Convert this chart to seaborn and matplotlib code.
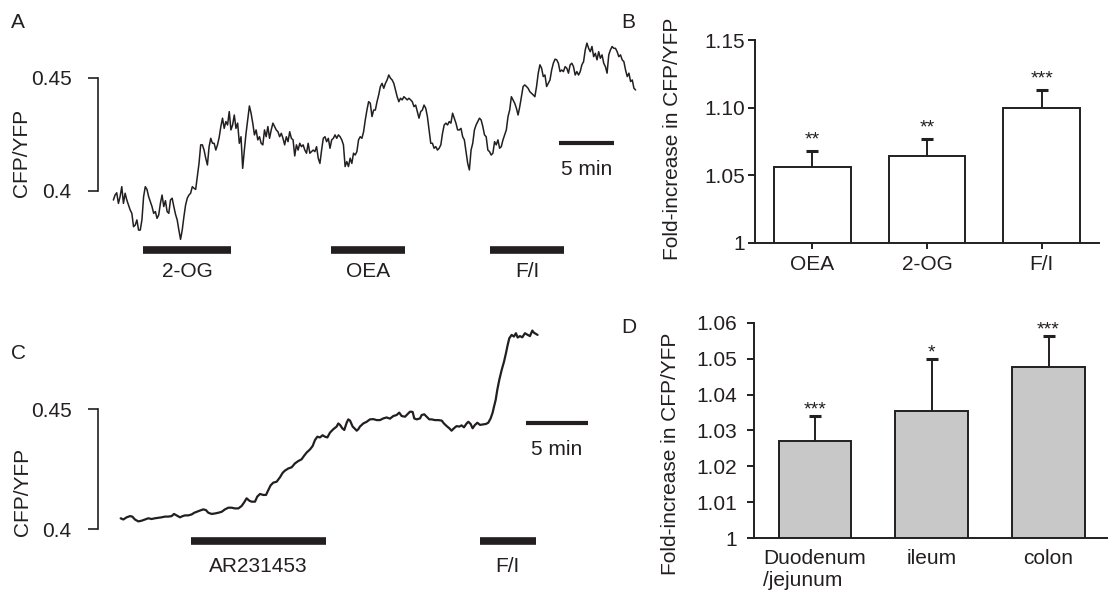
import numpy as np
import pandas as pd
import matplotlib
matplotlib.use("Agg")
import matplotlib.pyplot as plt
import seaborn as sns

sns.set_style("ticks")
plt.rcParams["font.family"] = ["Liberation Sans", "DejaVu Sans"]
plt.rcParams["font.size"] = 15

INK = "#231f20"
GREY = "#c8c8c8"

# ---------------- DATA ----------------
# panel A: CFP/YFP trace, one sample every dt_a minutes
dt_a = 0.1529
ratio_a = [
    0.3960, 0.3982, 0.3992, 0.3945, 0.3975, 0.4019, 0.3945, 0.3990, 0.3960, 0.3938,
    0.3916, 0.3901, 0.3842, 0.3849, 0.3872, 0.3827, 0.3827, 0.3872, 0.3975, 0.4019,
    0.4007, 0.3975, 0.3953, 0.3931, 0.3901, 0.3909, 0.3879, 0.3894, 0.3945, 0.3982,
    0.3931, 0.3957, 0.3909, 0.3901, 0.3960, 0.3968, 0.3931, 0.3897, 0.3872, 0.3827,
    0.3786, 0.3827, 0.3886, 0.3938, 0.3968, 0.3982, 0.3990, 0.4019, 0.4012, 0.4007,
    0.4063, 0.4122, 0.4204, 0.4204, 0.4181, 0.4145, 0.4115, 0.4196, 0.4233, 0.4211,
    0.4211, 0.4181, 0.4204, 0.4237, 0.4285, 0.4322, 0.4277, 0.4307, 0.4292, 0.4351,
    0.4270, 0.4292, 0.4336, 0.4277, 0.4300, 0.4211, 0.4240, 0.4100, 0.4181, 0.4255,
    0.4314, 0.4376, 0.4344, 0.4300, 0.4248, 0.4270, 0.4226, 0.4240, 0.4211, 0.4204,
    0.4270, 0.4240, 0.4285, 0.4233, 0.4270, 0.4300, 0.4285, 0.4270, 0.4262, 0.4240,
    0.4255, 0.4233, 0.4204, 0.4240, 0.4218, 0.4262, 0.4233, 0.4226, 0.4155, 0.4204,
    0.4181, 0.4211, 0.4196, 0.4204, 0.4181, 0.4167, 0.4211, 0.4167, 0.4174, 0.4181,
    0.4174, 0.4196, 0.4145, 0.4122, 0.4181, 0.4233, 0.4240, 0.4218, 0.4233, 0.4189,
    0.4226, 0.4233, 0.4248, 0.4233, 0.4248, 0.4240, 0.4226, 0.4204, 0.4108, 0.4130,
    0.4108, 0.4145, 0.4122, 0.4167, 0.4159, 0.4174, 0.4226, 0.4240, 0.4233, 0.4262,
    0.4314, 0.4358, 0.4395, 0.4388, 0.4329, 0.4358, 0.4358, 0.4395, 0.4425, 0.4462,
    0.4476,
    0.4454, 0.4476, 0.4491, 0.4513, 0.4499, 0.4491, 0.4476, 0.4447, 0.4417, 0.4395,
    0.4410, 0.4403, 0.4417, 0.4410, 0.4403, 0.4410, 0.4403, 0.4395, 0.4373, 0.4380,
    0.4351, 0.4322, 0.4351, 0.4358, 0.4380, 0.4366, 0.4329, 0.4270, 0.4211, 0.4211,
    0.4189, 0.4196, 0.4181, 0.4189, 0.4204, 0.4255, 0.4292, 0.4300, 0.4292, 0.4307,
    0.4300, 0.4344, 0.4322, 0.4300, 0.4270, 0.4270, 0.4277, 0.4240, 0.4226, 0.4174,
    0.4122, 0.4093, 0.4181, 0.4211, 0.4270, 0.4292, 0.4307, 0.4322, 0.4314, 0.4285,
    0.4248, 0.4240, 0.4181, 0.4174, 0.4159, 0.4167, 0.4218, 0.4204, 0.4226, 0.4189,
    0.4196, 0.4226, 0.4248, 0.4270, 0.4329, 0.4358, 0.4417, 0.4403, 0.4388, 0.4366,
    0.4336, 0.4373, 0.4417, 0.4462, 0.4469, 0.4462, 0.4454, 0.4439, 0.4432, 0.4425,
    0.4417, 0.4462, 0.4521, 0.4558, 0.4543, 0.4506, 0.4513, 0.4462, 0.4476, 0.4491,
    0.4535, 0.4565, 0.4583, 0.4580, 0.4565, 0.4528, 0.4535, 0.4528, 0.4550, 0.4543,
    0.4521, 0.4558, 0.4565, 0.4550, 0.4513, 0.4528, 0.4513, 0.4528, 0.4558, 0.4572,
    0.4624, 0.4654, 0.4631, 0.4616, 0.4639, 0.4594, 0.4609, 0.4580, 0.4616, 0.4587,
    0.4602, 0.4565, 0.4550, 0.4521, 0.4602, 0.4624, 0.4639, 0.4631, 0.4631, 0.4616,
    0.4594, 0.4602, 0.4580, 0.4572, 0.4535, 0.4506, 0.4521, 0.4484, 0.4491, 0.4454,
    0.4447,
]
stim_names_a = ["2-OG", "OEA", "F/I"]
stim_start_a = [2.72, 19.79, 34.28]
stim_end_a = [10.71, 26.58, 41.07]

# panel B
b_labels = ["OEA", "2-OG", "F/I"]
b_means = [1.056, 1.064, 1.100]
b_sem = [0.012, 0.0125, 0.013]
b_stars = ["**", "**", "***"]

# panel C: CFP/YFP trace (time in min)
time_c = [
    0.00, 0.21, 0.48, 0.74, 0.93, 1.14, 1.41, 1.68, 1.94, 2.21,
    2.47, 2.74, 3.01, 3.27, 3.54, 3.80, 4.07, 4.26, 4.47, 4.74,
    4.95, 5.14, 5.40, 5.67, 5.88, 6.07, 6.33, 6.60, 6.81, 7.00,
    7.27, 7.53, 7.80, 8.07, 8.33, 8.60, 8.86, 9.13, 9.40, 9.66,
    9.85, 10.06, 10.28, 10.46, 10.73, 10.91, 11.13, 11.39, 11.61, 11.79,
    11.98, 12.19, 12.46, 12.72, 12.94, 13.12, 13.39, 13.66, 13.92, 14.19,
    14.45, 14.64, 14.85, 15.12, 15.33, 15.52, 15.71, 15.92, 16.13, 16.32,
    16.51, 16.72, 16.98, 17.25, 17.38, 17.52, 17.70, 17.86, 18.05, 18.18,
    18.32, 18.53, 18.71, 18.85, 18.98, 19.11, 19.38, 19.65, 19.91, 20.18,
    20.45, 20.71,
    20.98, 21.24, 21.51, 21.78, 22.04, 22.25, 22.44, 22.71, 22.97, 23.11,
    23.32, 23.45, 23.64, 23.91, 24.04, 24.25, 24.44, 24.65, 24.84, 25.10,
    25.37, 25.64, 25.82, 26.04, 26.25, 26.43, 26.62, 26.83, 27.05, 27.23,
    27.42, 27.63, 27.77, 27.95, 28.11, 28.30, 28.49, 28.70, 28.96, 29.18,
    29.36, 29.55, 29.71, 29.82, 29.95, 30.08, 30.24, 30.43, 30.62, 30.77,
    30.91, 31.04, 31.23, 31.41, 31.57, 31.71, 31.89, 32.08, 32.29, 32.48,
    32.69, 32.88, 33.01, 33.17, 33.30,
]
ratio_c = [
    0.4046, 0.4041, 0.4050, 0.4055, 0.4053, 0.4041, 0.4033, 0.4036, 0.4041, 0.4046,
    0.4043, 0.4046, 0.4048, 0.4050, 0.4053, 0.4053, 0.4055, 0.4064, 0.4058, 0.4050,
    0.4055, 0.4058, 0.4058, 0.4062, 0.4069, 0.4073, 0.4078, 0.4083, 0.4080, 0.4069,
    0.4064, 0.4066, 0.4069, 0.4073, 0.4083, 0.4090, 0.4090, 0.4087, 0.4087, 0.4097,
    0.4111, 0.4129, 0.4119, 0.4115, 0.4115, 0.4136, 0.4147, 0.4143, 0.4143, 0.4163,
    0.4183, 0.4194, 0.4198, 0.4216, 0.4235, 0.4244, 0.4253, 0.4258, 0.4274, 0.4284,
    0.4291, 0.4305, 0.4319, 0.4332, 0.4346, 0.4371, 0.4385, 0.4382, 0.4391, 0.4385,
    0.4382, 0.4402, 0.4416, 0.4427, 0.4440, 0.4434, 0.4420, 0.4413, 0.4443, 0.4457,
    0.4452, 0.4427, 0.4418, 0.4410, 0.4416, 0.4427, 0.4440, 0.4447, 0.4457, 0.4458,
    0.4454, 0.4454,
    0.4461, 0.4465, 0.4460, 0.4471, 0.4475, 0.4485, 0.4471, 0.4468, 0.4482, 0.4489,
    0.4488, 0.4461, 0.4457, 0.4461, 0.4475, 0.4478, 0.4468, 0.4457, 0.4457, 0.4454,
    0.4454, 0.4452, 0.4440, 0.4429, 0.4420, 0.4410, 0.4420, 0.4429, 0.4427, 0.4432,
    0.4424, 0.4440, 0.4447, 0.4438, 0.4420, 0.4434, 0.4443, 0.4434, 0.4436, 0.4438,
    0.4443, 0.4461, 0.4485, 0.4510, 0.4537, 0.4579, 0.4621, 0.4662, 0.4697, 0.4731,
    0.4766, 0.4794, 0.4808, 0.4801, 0.4815, 0.4797, 0.4803, 0.4798, 0.4815, 0.4809,
    0.4803, 0.4826, 0.4817, 0.4812, 0.4808,
]
stim_names_c = ["AR231453", "F/I"]
stim_start_c = [5.62, 28.70]
stim_end_c = [16.40, 33.15]

# panel D
d_labels = ["Duodenum\n/jejunum", "ileum", "colon"]
d_means = [1.0271, 1.0355, 1.0478]
d_sem = [0.0070, 0.0145, 0.0086]
d_stars = ["***", "*", "***"]

# ---------------- FIGURE ----------------
W, H = 1118, 596
fig = plt.figure(figsize=(W / 100, H / 100), dpi=100)


def px_axes(left, top, right, bottom):
    return fig.add_axes([left / W, 1 - bottom / H, (right - left) / W, (bottom - top) / H])


def trace_style(ax, lw):
    for s in ["top", "right", "bottom"]:
        ax.spines[s].set_visible(False)
    ax.spines["left"].set_bounds(0.4, 0.45)
    ax.spines["left"].set_linewidth(lw)
    ax.spines["left"].set_color(INK)
    ax.set_yticks([0.4, 0.45])
    ax.set_yticklabels(["0.4", "0.45"])
    ax.set_xticks([])
    ax.tick_params(axis="y", length=7, width=lw, pad=12, color=INK, labelcolor=INK)
    ax.set_xlabel("")
    ax.set_ylabel("")


# ---------------- A ----------------
ax_a = px_axes(98, 30, 640, 290)
t_a = np.arange(len(ratio_a)) * dt_a
sns.lineplot(x=t_a, y=ratio_a, ax=ax_a, color=INK, linewidth=1.1)
ax_a.set_xlim(-1.40, 47.95)
ax_a.set_ylim(0.3562, 0.4712)
for name, s, e in zip(stim_names_a, stim_start_a, stim_end_a):
    ax_a.plot([s, e], [0.3741, 0.3741], color=INK, linewidth=5.5, solid_capstyle="butt")
    ax_a.text((s + e) / 2, 0.3646, name, ha="center", va="center", color=INK)
ax_a.plot([40.57, 45.57], [0.4214, 0.4214], color=INK, linewidth=3, solid_capstyle="butt")
ax_a.text(43.07, 0.4097, "5 min", ha="center", va="center", color=INK)
trace_style(ax_a, 1.2)

# ---------------- C ----------------
ax_c = px_axes(98, 300, 640, 590)
sns.lineplot(x=time_c, y=ratio_c, ax=ax_c, color=INK, linewidth=1.6)
ax_c.set_xlim(-1.81, 41.48)
ax_c.set_ylim(0.3748, 0.4953)
for name, s, e in zip(stim_names_c, stim_start_c, stim_end_c):
    ax_c.plot([s, e], [0.3951, 0.3951], color=INK, linewidth=5.5, solid_capstyle="butt")
    ax_c.text((s + e) / 2, 0.3847, name, ha="center", va="center", color=INK)
ax_c.plot([32.35, 37.35], [0.4443, 0.4443], color=INK, linewidth=3, solid_capstyle="butt")
ax_c.text(34.85, 0.4330, "5 min", ha="center", va="center", color=INK)
trace_style(ax_c, 1.2)


# ---------------- BAR PANELS ----------------
def bar_panel(ax, labels, means, sem, stars, fill, width, star_off, xlim, ylim):
    df = pd.DataFrame({"group": labels, "fold": means})
    sns.barplot(data=df, x="group", y="fold", ax=ax, color=fill, saturation=1,
                edgecolor=INK, linewidth=1.4, width=width, errorbar=None)
    x = np.arange(len(means))
    tops = np.array(means) + np.array(sem)
    # upward-only error bars: stem + cap on top
    ax.vlines(x, means, tops, color=INK, linewidth=1.4)
    ax.scatter(x, tops, marker="_", s=80, linewidths=2.2, color=INK, zorder=3)
    for i, (t, s) in enumerate(zip(tops, stars)):
        ax.annotate(s, (i, t), xytext=(0, star_off), textcoords="offset points",
                    ha="center", va="baseline", fontsize=14, color=INK)
    ax.set_xlim(*xlim)
    ax.set_ylim(*ylim)
    sns.despine(ax=ax)
    for s in ["left", "bottom"]:
        ax.spines[s].set_linewidth(1.4)
        ax.spines[s].set_color(INK)
    ax.set_xlabel("")
    ax.set_ylabel("")


ax_b = px_axes(755, 40, 1099, 243)
bar_panel(ax_b, b_labels, b_means, b_sem, b_stars, "white", 0.67, 5, (-0.5, 2.5), (1, 1.15))
ax_b.set_yticks([1, 1.05, 1.10, 1.15])
ax_b.set_yticklabels(["1", "1.05", "1.10", "1.15"])
ax_b.tick_params(axis="y", length=5, width=1.4, pad=2, color=INK, labelcolor=INK)
ax_b.tick_params(axis="x", length=4, width=1.4, pad=5, color=INK, labelcolor=INK)

ax_d = px_axes(754, 323, 1107, 538)
bar_panel(ax_d, d_labels, d_means, d_sem, d_stars, GREY, 0.62, 1, (-0.52, 2.5), (1, 1.06))
ax_d.set_yticks([1, 1.01, 1.02, 1.03, 1.04, 1.05, 1.06])
ax_d.set_yticklabels(["1", "1.01", "1.02", "1.03", "1.04", "1.05", "1.06"])
ax_d.tick_params(axis="y", length=5, width=1.4, pad=7, color=INK, labelcolor=INK)
ax_d.tick_params(axis="x", length=0, pad=8, labelcolor=INK)
for lab in ax_d.get_xticklabels():
    lab.set_multialignment("left")

# ---------------- LABELS ----------------
fig.text(21.7 / W, 1 - 153 / H, "CFP/YFP", rotation=90, ha="center", va="center", color=INK)
fig.text(23 / W, 1 - 492 / H, "CFP/YFP", rotation=90, ha="center", va="center", color=INK)
fig.text(672.5 / W, 1 - 138.5 / H, "Fold-increase in CFP/YFP", rotation=90,
         ha="center", va="center", color=INK)
fig.text(670.5 / W, 1 - 453.5 / H, "Fold-increase in CFP/YFP", rotation=90,
         ha="center", va="center", color=INK)

for letter, x, y in [("A", 11, 28), ("B", 621, 28), ("C", 11, 359), ("D", 621, 333)]:
    fig.text(x / W, 1 - y / H, letter, ha="left", va="baseline", color=INK)

plt.savefig("out.png", dpi=100)
